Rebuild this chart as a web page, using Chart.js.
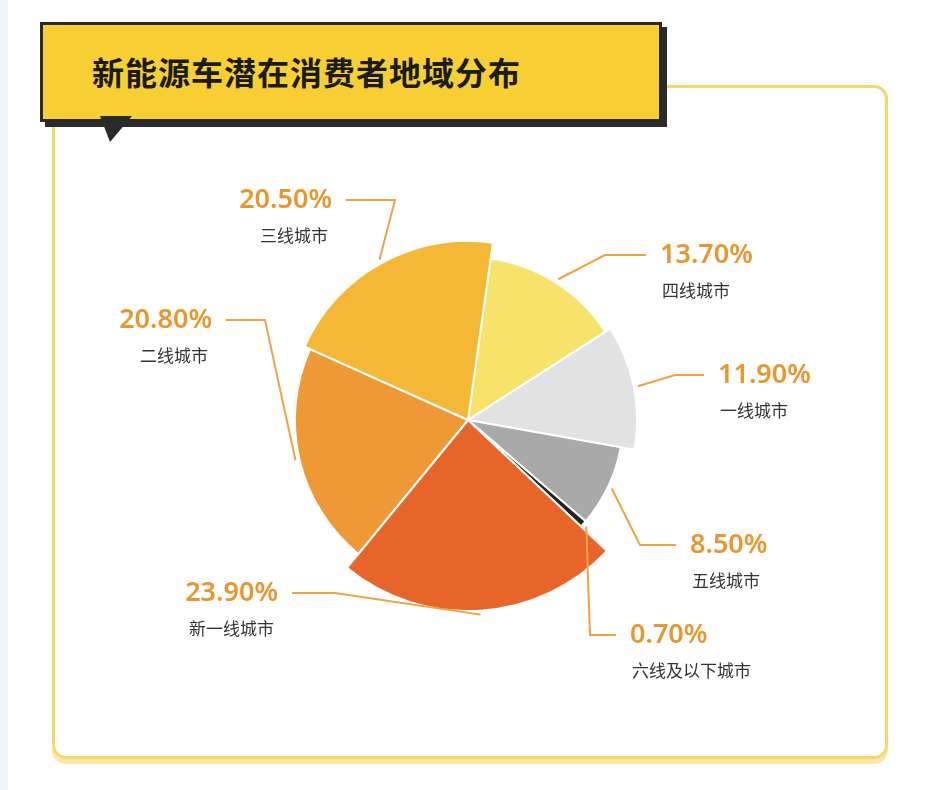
<!DOCTYPE html>
<html>
<head>
<meta charset="utf-8">
<script src="https://cdn.jsdelivr.net/npm/chart.js@4"></script>
<style>
  body { margin: 0; background: #fff; font-family: "Noto Sans CJK SC", "Noto Sans", sans-serif; }
  #page { position: relative; width: 932px; height: 790px; overflow: hidden; }
  #frame { position: absolute; left: 52px; top: 85px; width: 830px; height: 668px;
    border: 3px solid #f5d868; border-radius: 14px; box-shadow: 0 5px 0 #f7e7a8; }
  #banner { position: absolute; left: 40px; top: 22px; width: 616px; height: 94px;
    background: #f8cf33; border: 3px solid #2a2a2a; box-shadow: 5px 5px 0 #2a2a2a; }
  #tail { position: absolute; left: 100px; top: 116px; width: 0; height: 0;
    border-left: 10px solid transparent; border-right: 22px solid transparent; border-top: 26px solid #2a2a2a; }
  #title { position: absolute; left: 92px; top: 48px; font-size: 32px; font-weight: 700; color: #1b1b1b; letter-spacing: 1px; }
  #edge { position: absolute; left: 0; top: 0; width: 8px; height: 790px; background: #eef4fb; }
  canvas { position: absolute; left: 0; top: 0; }
</style>
</head>
<body>
<div id="page">
  <div id="edge"></div>
  <div id="frame"></div>
  <div id="banner"></div>
  <div id="tail"></div>
  <div id="title">新能源车潜在消费者地域分布</div>
  <canvas id="pie" width="932" height="790"></canvas>
</div>
<script>
  // Data (clockwise from the top)
  const categories = ["四线城市", "一线城市", "五线城市", "六线及以下城市", "新一线城市", "二线城市", "三线城市"];
  const shares = [13.7, 11.9, 8.5, 0.7, 23.9, 20.8, 20.5];
  const percentLabels = ["13.70%", "11.90%", "8.50%", "0.70%", "23.90%", "20.80%", "20.50%"];

  const sliceColors = ["#f7e36a", "#e2e2e2", "#a9a9a9", "#232323", "#e8652a", "#ee9935", "#f5b736"];
  const radiusScale = [0.82, 0.85, 0.78, 0.78, 0.96, 0.87, 0.9];
  // label anchor: [elbowX, elbowY, textX, align]
  const labelLayout = [
    [605, 255, 660, "left"],
    [675, 375, 718, "left"],
    [640, 545, 690, "left"],
    [590, 635, 630, "left"],
    [335, 593, 278, "right"],
    [265, 320, 212, "right"],
    [395, 200, 332, "right"],
  ];

  const radiusPlugin = {
    id: "radius",
    afterDatasetsUpdate(chart) {
      const meta = chart.getDatasetMeta(0);
      meta.data.forEach((arc, i) => {
        arc.outerRadius = arc.outerRadius * radiusScale[i];
      });
    },
  };

  const labelPlugin = {
    id: "labels",
    afterDraw(chart) {
      const ctx = chart.ctx;
      const meta = chart.getDatasetMeta(0);
      meta.data.forEach((arc, i) => {
        const mid = (arc.startAngle + arc.endAngle) / 2;
        const r = arc.outerRadius + 4;
        const x0 = arc.x + Math.cos(mid) * r;
        const y0 = arc.y + Math.sin(mid) * r;
        const [ex, ey, tx, align] = labelLayout[i];
        const lineEnd = align === "left" ? tx - 14 : tx + 14;
        ctx.save();
        ctx.strokeStyle = "#eba346";
        ctx.lineWidth = 2;
        ctx.beginPath();
        ctx.moveTo(x0, y0);
        ctx.lineTo(ex, ey);
        ctx.lineTo(lineEnd, ey);
        ctx.stroke();
        ctx.textAlign = align;
        ctx.textBaseline = "middle";
        ctx.fillStyle = "#e8962e";
        ctx.font = "600 27px 'Noto Sans', sans-serif";
        ctx.fillText(percentLabels[i], tx, ey);
        ctx.fillStyle = "#333";
        ctx.font = "17px 'Noto Sans CJK SC', sans-serif";
        ctx.fillText(categories[i], align === "left" ? tx + 2 : tx - 4, ey + 36);
        ctx.restore();
      });
    },
  };

  new Chart(document.getElementById("pie"), {
    type: "pie",
    data: {
      labels: categories,
      datasets: [{
        data: shares,
        backgroundColor: sliceColors,
        borderColor: "#ffffff",
        borderWidth: 2,
      }],
    },
    options: {
      responsive: false,
      animation: false,
      rotation: 8,
      layout: { padding: { left: 268, right: 264, top: 220, bottom: 170 } },
      plugins: { legend: { display: false }, tooltip: { enabled: false } },
    },
    plugins: [radiusPlugin, labelPlugin],
  });
</script>
</body>
</html>
